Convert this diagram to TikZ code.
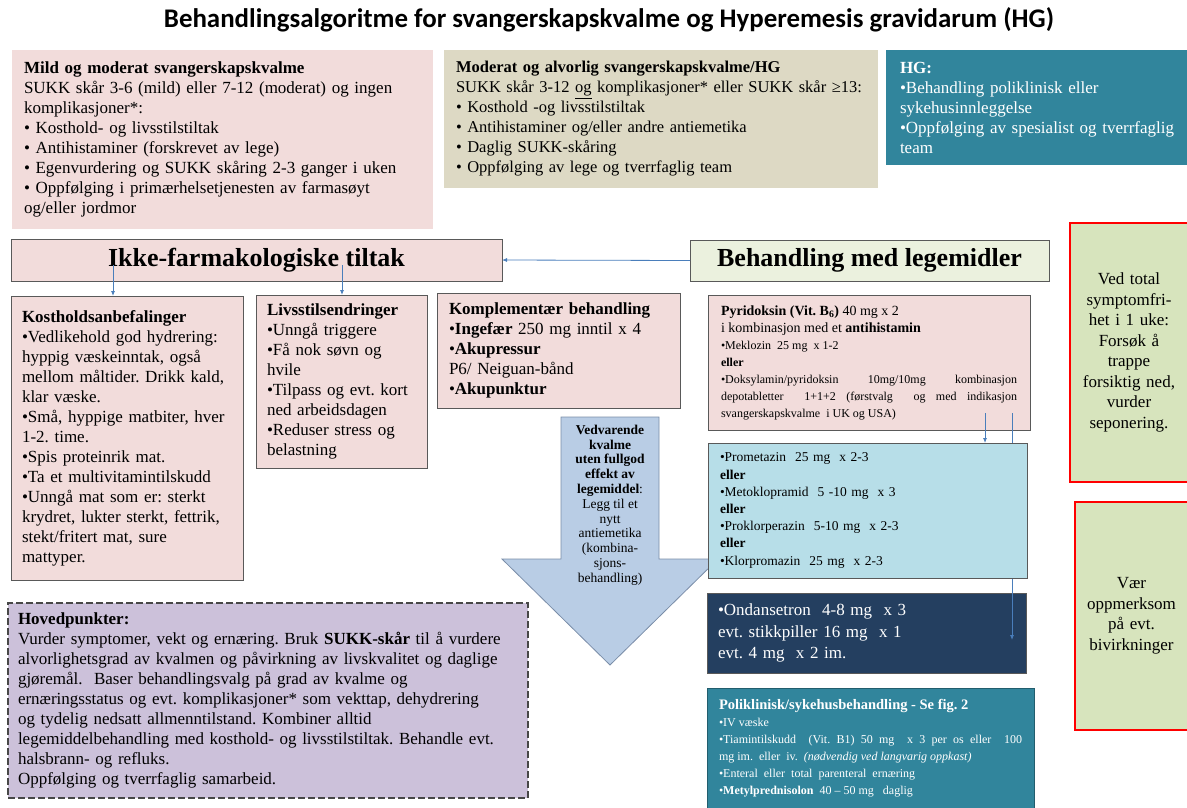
\documentclass[tikz,border=0pt]{standalone}
\usepackage{fontspec}
\setmainfont{Liberation Serif}
\newfontfamily\headfont{Carlito}
\usetikzlibrary{arrows.meta}
\frenchspacing
\hyphenpenalty=10000
\exhyphenpenalty=10000

\definecolor{rosebg}{HTML}{F2DCDB}
\definecolor{sandbg}{HTML}{DDD9C4}
\definecolor{tealbg}{HTML}{31859C}
\definecolor{mintbg}{HTML}{EBF1DE}
\definecolor{sagebg}{HTML}{D7E4BD}
\definecolor{skybg}{HTML}{B7DEE8}
\definecolor{navybg}{HTML}{243F60}
\definecolor{lilacbg}{HTML}{CCC1DA}
\definecolor{arrowbg}{HTML}{B9CDE5}
\definecolor{arrowedge}{HTML}{7A8DA8}
\definecolor{linkblue}{HTML}{4A7EBB}
\definecolor{edgegray}{HTML}{595959}

\newcommand{\bodyfont}{\fontsize{17}{20}\selectfont}
\newcommand{\drugfont}{\fontsize{13.5}{17.2}\selectfont}
\newcommand{\arrowfont}{\fontsize{13.5}{14.8}\selectfont}

\tikzset{
  panel/.style={anchor=north west, align=left, inner xsep=12pt, inner ysep=0pt,
    outer sep=0pt, font=\bodyfont},
  framed/.style={panel, draw=edgegray, line width=0.9pt},
  heading/.style={draw=edgegray, line width=0.9pt, inner sep=0pt, outer sep=0pt,
    font=\bfseries\fontsize{26}{28}\selectfont},
  hint/.style={anchor=north west, align=center, inner sep=0pt, outer sep=0pt,
    fill=sagebg, draw=red, line width=1.4pt, font=\fontsize{17}{20.5}\selectfont},
  link/.style={draw=linkblue, line width=0.8pt, -{Latex[length=5pt,width=4pt]}}
}

\begin{document}
\begin{tikzpicture}[x=1pt, y=-1pt]
\useasboundingbox (0,0) rectangle (1187,807);

% title
\node[font=\headfont\bfseries\fontsize{26.9}{30}\selectfont] (title) at (609,20)
  {Behandlingsalgoritme for svangerskapskvalme og Hyperemesis gravidarum (HG)};

% severity
\node[panel, fill=rosebg, text width=397pt, minimum height=179pt] (mild) at (12,50)
  {\textbf{Mild og moderat svangerskapskvalme}\\
   SUKK skår 3-6 (mild) eller 7-12 (moderat) og ingen\\
   komplikasjoner*:\\
   • Kosthold- og livsstilstiltak\\
   • Antihistaminer (forskrevet av lege)\\
   • Egenvurdering og SUKK skåring 2-3 ganger i uken\\
   • Oppfølging i primærhelsetjenesten av farmasøyt\\
   og/eller jordmor};
\node[panel, fill=sandbg, font=\fontsize{16.5}{20}\selectfont, text width=410pt,
  minimum height=138pt] (severe) at (444,50)
  {\textbf{Moderat og alvorlig svangerskapskvalme/HG}\\
   SUKK skår 3-12 \underline{og} komplikasjoner* eller SUKK skår ≥13:\\
   • Kosthold -og livsstilstiltak\\
   • Antihistaminer og/eller andre antiemetika\\
   • Daglig SUKK-skåring\\
   • Oppfølging av lege og tverrfaglig team};
\node[panel, fill=tealbg, text=white, inner xsep=14pt, text width=287pt,
  minimum height=115pt] (hg) at (886,50)
  {\textbf{HG:}\\
   •Behandling poliklinisk eller\\
   sykehusinnleggelse\\
   •Oppfølging av spesialist og tverrfaglig\\
   team};

% two tracks
\node[heading, fill=rosebg, minimum width=491pt, minimum height=42pt] (nonpharm)
  at (256.5,260) {Ikke-farmakologiske tiltak};
\node[heading, fill=mintbg, minimum width=359pt, minimum height=41pt] (meds)
  at (869.5,260.5) {Behandling med legemidler};
\draw[link] (meds.west) -- (nonpharm.east);

\node[framed, fill=rosebg, inner xsep=11pt, text width=210pt, minimum height=284pt]
  (diet) at (11,296)
  {\textbf{Kostholdsanbefalinger}\\
   •Vedlikehold god hydrering:\\
   hyppig væskeinntak, også\\
   mellom måltider. Drikk kald,\\
   klar væske.\\
   •Små, hyppige matbiter, hver\\
   1-2. time.\\
   •Spis proteinrik mat.\\
   •Ta et multivitamintilskudd\\
   •Unngå mat som er: sterkt\\
   krydret, lukter sterkt, fettrik,\\
   stekt/fritert mat, sure\\
   mattyper.};
\node[framed, fill=rosebg, inner xsep=11pt, text width=149pt, minimum height=173pt]
  (life) at (256,295)
  {\textbf{Livsstilsendringer}\\
   •Unngå triggere\\
   •Få nok søvn og\\
   hvile\\
   •Tilpass og evt. kort\\
   ned arbeidsdagen\\
   •Reduser stress og\\
   belastning};
\node[framed, fill=rosebg, text width=219pt, minimum height=115pt] (comp) at (437,293)
  {\textbf{Komplementær behandling}\\
   •\textbf{Ingefær} 250 mg inntil x 4\\
   •\textbf{Akupressur}\\
   P6/ Neiguan-bånd\\
   •\textbf{Akupunktur}};

\coordinate (f1) at (113,265);
\coordinate (f2) at (342,265);
\draw[link] (f1) -- (f1 |- diet.north);
\draw[link] (f2) -- (f2 |- life.north);

% advice on the right
\node[hint, text width=118pt, minimum height=259pt] (taper) at (1070,223)
  {Ved total\\ symptomfri-\\ het i 1 uke:\\ Forsøk å\\ trappe\\ forsiktig ned,\\ vurder\\ seponering.};
\node[hint, text width=113pt, minimum height=228pt] (sidefx) at (1075,502)
  {Vær\\ oppmerksom\\ på evt.\\ bivirkninger};

% escalation arrow
\filldraw[fill=arrowbg, draw=arrowedge, line width=0.8pt]
  (561,417) -- (659,417) -- (659,559) -- (718,559) -- (610,665) -- (502,559)
  -- (561,559) -- cycle;
\node[font=\arrowfont, align=center, inner sep=0pt] (advice) at (610,505)
  {\textbf{Vedvarende}\\ \textbf{kvalme}\\ \textbf{uten fullgod}\\ \textbf{effekt av}\\
   \textbf{legemiddel}:\\ Legg til et\\ nytt\\ antiemetika\\ (kombina-\\ sjons-\\ behandling)};

% drug steps
\node[framed, fill=rosebg, align=justify, font=\fontsize{12}{17}\selectfont,
  inner xsep=13pt, text width=296pt, minimum height=135pt] (pyr) at (708,295)
  {{\fontsize{14}{17}\selectfont\textbf{Pyridoksin (Vit. B\textsubscript{6})} 40 mg x 2\par
   i kombinasjon med et \textbf{antihistamin}\par}
   •Meklozin\ \ 25 mg\ \ x 1-2\par
   \textbf{eller}\par
   •Doksylamin/pyridoksin\ \ 10mg/10mg\ \ kombinasjon\linebreak
   depotabletter\ \ 1+1+2 (førstvalg\ \ og med indikasjon\linebreak
   svangerskapskvalme\ \ i UK og USA)\par};
\node[framed, fill=navybg, text=white, font=\fontsize{17}{21.5}\selectfont,
  inner xsep=11pt, text width=297pt, minimum height=80pt] (ond) at (707,593)
  {•Ondansetron\ \ 4-8 mg\ \ x 3\\
   evt. stikkpiller 16 mg\ \ x 1\\
   evt. 4 mg\ \ x 2 im.};
\node[panel, fill=tealbg, draw=tealbg!70!black, line width=0.9pt, text=white,
  align=justify, font=\fontsize{12}{17}\selectfont, text width=303pt,
  minimum height=121pt] (poli) at (707,688)
  {{\fontsize{14.5}{17}\selectfont\textbf{Poliklinisk/sykehusbehandling - Se fig. 2}\par}
   •IV væske\par
   •Tiamintilskudd\ \ (Vit. B1) 50 mg\ \ x 3 per os eller\ \ 100\linebreak
   mg im.\ \ eller\ \ iv.\ \ \textit{(nødvendig ved langvarig oppkast)}\par
   •Enteral\ \ eller\ \ total\ \ parenteral\ \ ernæring\par
   •\textbf{Metylprednisolon}\ \ 40 – 50 mg\ \ \ daglig\par};

\coordinate (p1) at (985,413);
\coordinate (p2) at (1012,413);
\coordinate (p2end) at (1012,640);
\draw[link] (p2) -- (p2end);

\node[framed, fill=skybg, font=\drugfont, text width=295pt, minimum height=135pt]
  (anti) at (708,443)
  {•Prometazin\ \ 25 mg\ \ x 2-3\\
   \textbf{eller}\\
   •Metoklopramid\ \ 5 -10 mg\ \ x 3\\
   \textbf{eller}\\
   •Proklorperazin\ \ 5-10 mg\ \ x 2-3\\
   \textbf{eller}\\
   •Klorpromazin\ \ 25 mg\ \ x 2-3};
\draw[link] (p1) -- (p1 |- anti.north);

% key points
\node[panel, fill=lilacbg, draw=edgegray!80!black, line width=2.2pt,
  dash pattern=on 7pt off 3pt, inner xsep=10pt, text width=500pt,
  minimum height=195pt] (keys) at (8,603)
  {\textbf{Hovedpunkter:}\\
   Vurder symptomer, vekt og ernæring. Bruk \textbf{SUKK-skår} til å vurdere\\
   alvorlighetsgrad av kvalmen og påvirkning av livskvalitet og daglige\\
   gjøremål.\ \ Baser behandlingsvalg på grad av kvalme og\\
   ernæringsstatus og evt. komplikasjoner* som vekttap, dehydrering\\
   og tydelig nedsatt allmenntilstand. Kombiner alltid\\
   legemiddelbehandling med kosthold- og livsstilstiltak. Behandle evt.\\
   halsbrann- og refluks.\\
   Oppfølging og tverrfaglig samarbeid.};

\end{tikzpicture}
\end{document}
